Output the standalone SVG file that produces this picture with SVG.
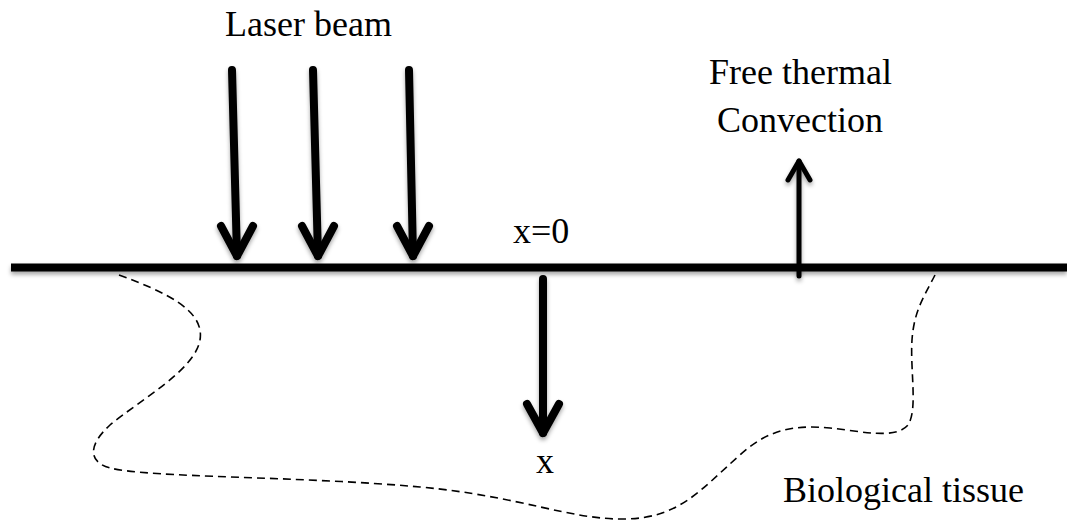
<svg xmlns="http://www.w3.org/2000/svg" width="1067" height="521" viewBox="0 0 1067 521">
  <defs>
    <filter id="shadow" filterUnits="userSpaceOnUse" x="0" y="0" width="1067" height="521">
      <feDropShadow dx="0" dy="3" stdDeviation="2" flood-color="#000" flood-opacity="0.35"/>
    </filter>
    <style>
      .lbl { font-family: "Liberation Serif", "Times New Roman", serif; font-size: 36px; fill: #000; }
      .thick { stroke: #000; stroke-width: 8; fill: none; stroke-linecap: round; stroke-linejoin: round; }
      .thin { stroke: #000; stroke-width: 5; fill: none; stroke-linecap: round; stroke-linejoin: round; }
      .dash { stroke: #000; stroke-width: 1.6; fill: none; stroke-dasharray: 8 5; }
    </style>
  </defs>
  <rect width="1067" height="521" fill="#fff"/>

  <g id="surface">
    <rect x="11" y="263.5" width="1056" height="8" fill="#000" filter="url(#shadow)"/>
  </g>

  <g id="tissue">
    <path class="dash" d="M119,275 C165,292 205,310 200,340 C195,370 140,400 110,425 C88,445 88,462 110,468 C150,478 300,476 420,487 C520,496 570,520 625,519 C680,518 700,490 740,455 C765,432 790,424 830,428 C860,431 895,440 908,425 C918,410 910,370 912,340 C914,310 925,295 935,275"/>
  </g>

  <g id="connectors" filter="url(#shadow)">
    <g id="laser-arrow-1">
      <path class="thick" d="M232,70 L237,256"/>
      <path class="thick" d="M221,226 L237,256 L253,226"/>
    </g>
    <g id="laser-arrow-2">
      <path class="thick" d="M313,70 L318,256"/>
      <path class="thick" d="M302,226 L318,256 L334,226"/>
    </g>
    <g id="laser-arrow-3">
      <path class="thick" d="M409,70 L413,256"/>
      <path class="thick" d="M397,226 L413,256 L429,226"/>
    </g>
    <g id="convection-arrow">
      <path class="thin" d="M799,276 L799,161"/>
      <path class="thin" d="M788,180 L799,161 L810,180"/>
    </g>
    <g id="x-arrow">
      <path class="thick" d="M543,279 L543,433"/>
      <path class="thick" d="M527,404 L543,433 L559,404"/>
    </g>
  </g>

  <g id="labels">
    <text id="laser-beam" class="lbl" x="225" y="36">Laser beam</text>
    <text id="free-thermal" class="lbl" x="709" y="84">Free thermal</text>
    <text id="convection" class="lbl" x="717" y="132">Convection</text>
    <text id="x0" class="lbl" x="513" y="243">x=0</text>
    <text id="x" class="lbl" x="536" y="473">x</text>
    <text id="bio" class="lbl" x="783" y="502">Biological tissue</text>
  </g>
</svg>
